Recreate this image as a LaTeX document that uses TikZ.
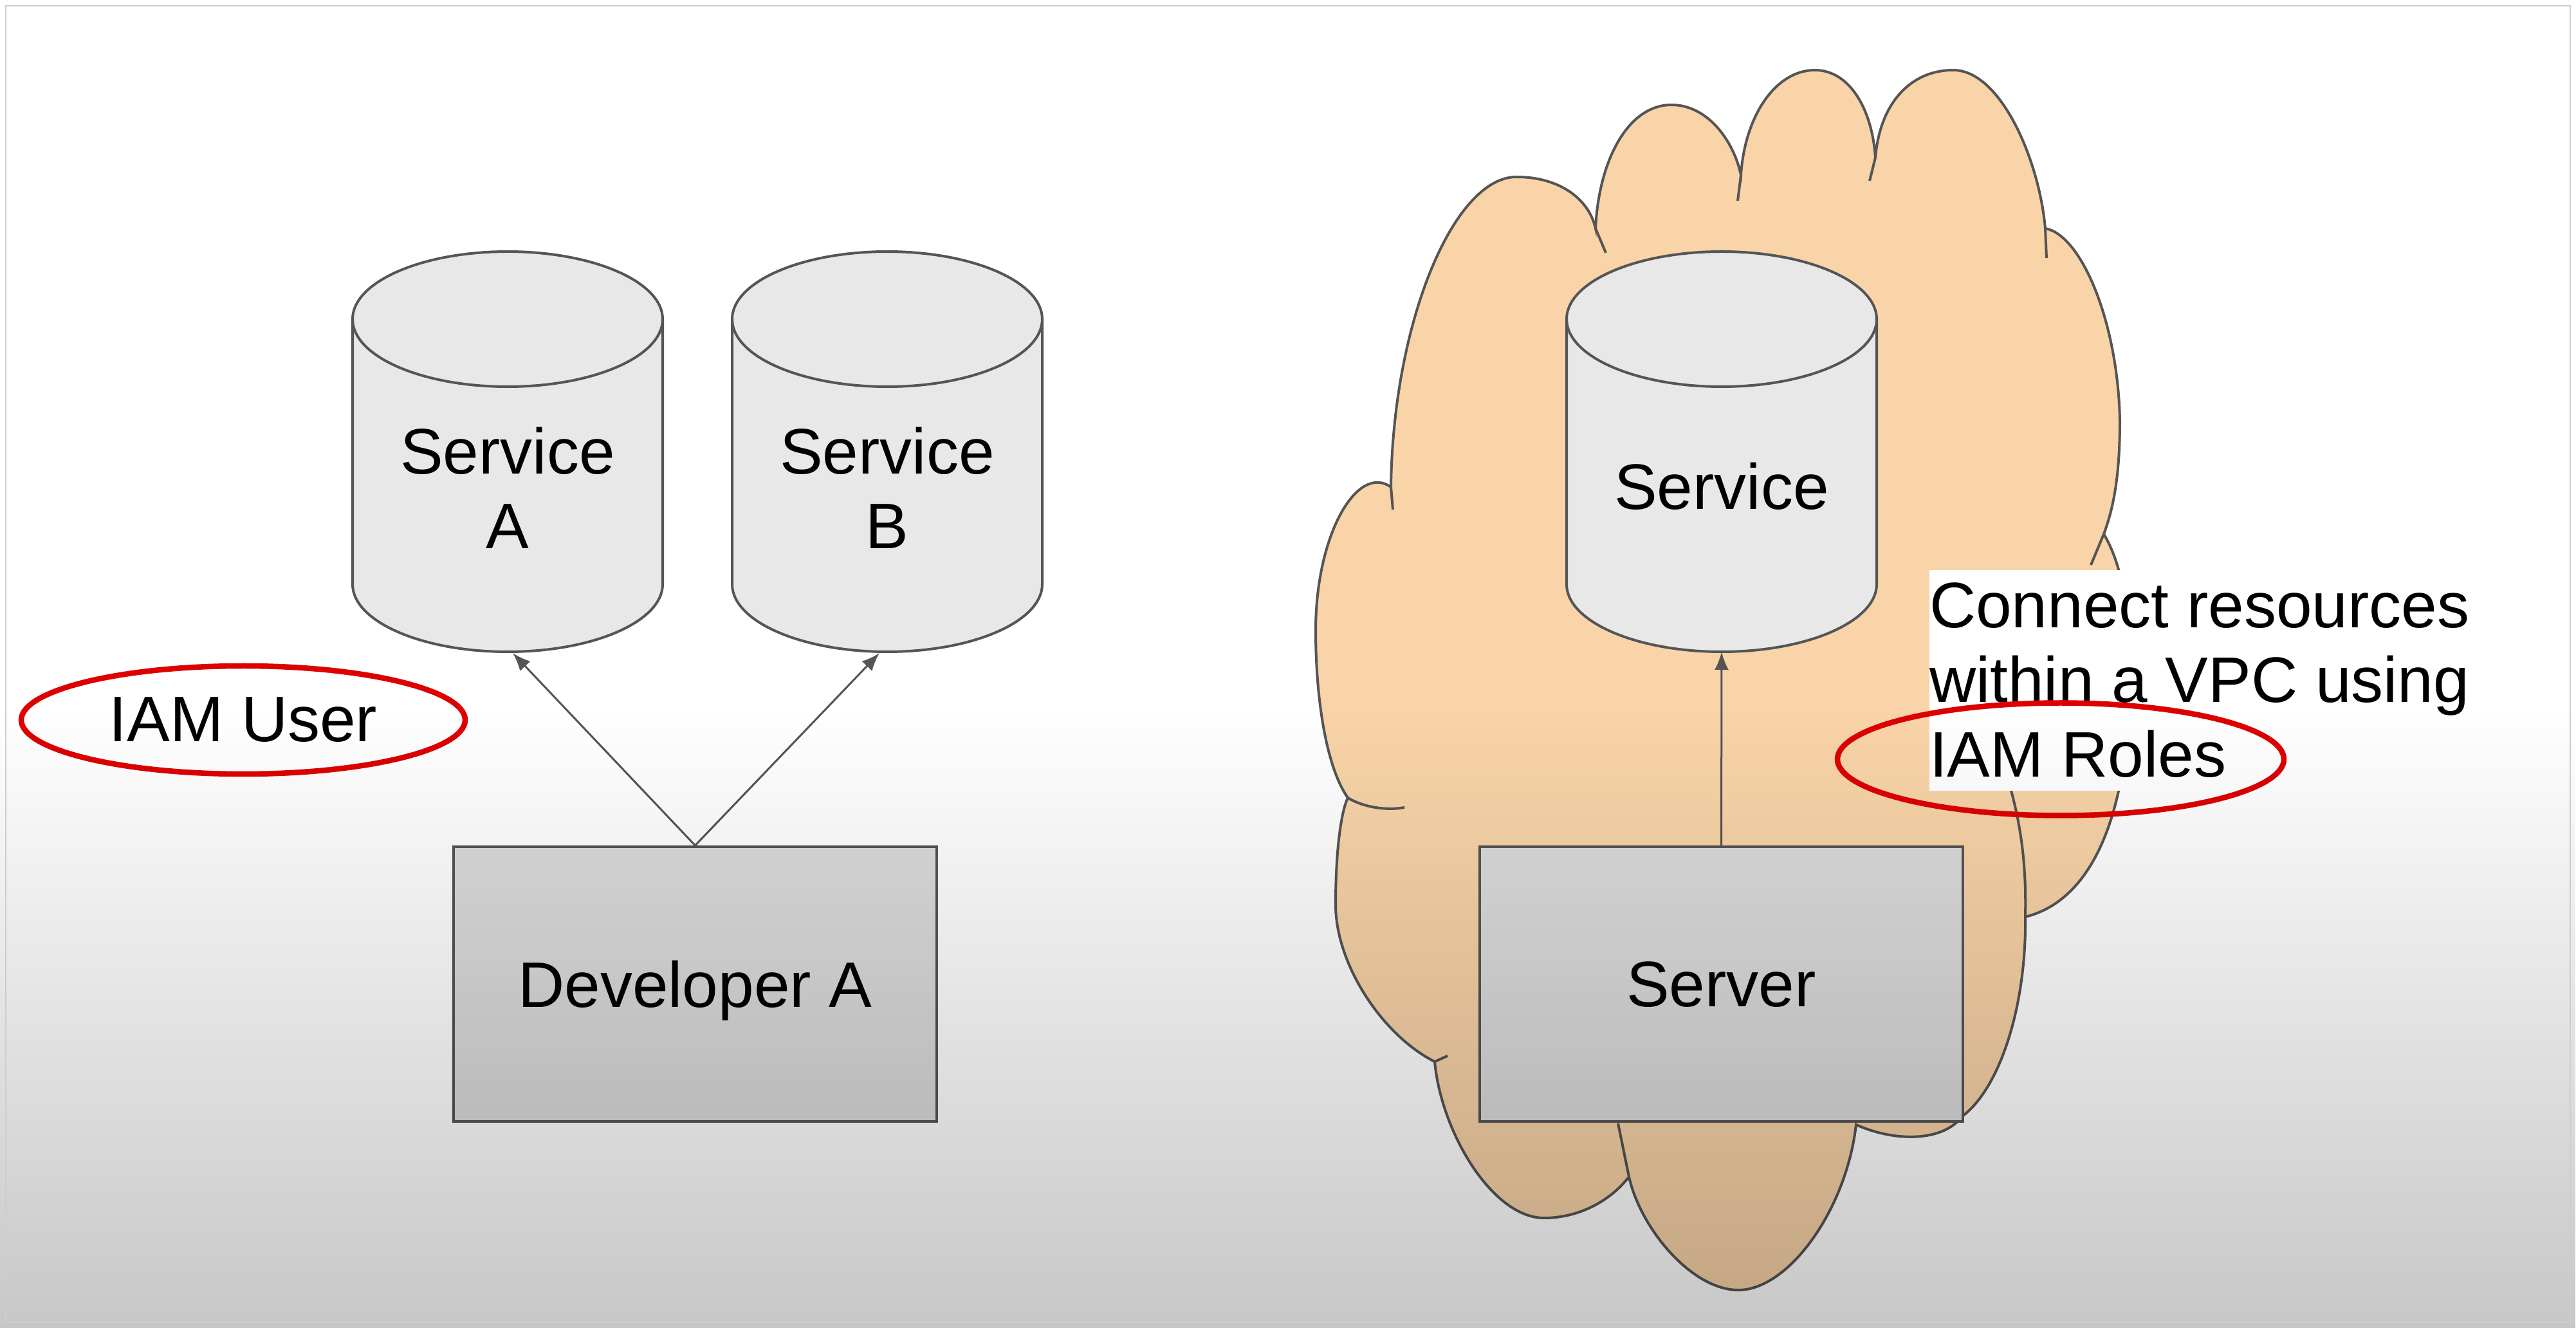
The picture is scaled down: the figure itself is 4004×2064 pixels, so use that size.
\documentclass[tikz,border=0pt]{standalone}
\usepackage{fontspec}
\setmainfont{Liberation Sans}
\usetikzlibrary{arrows.meta,shapes.geometric,fadings}

\definecolor{cloudfill}{RGB}{249,212,168}
\definecolor{canfill}{RGB}{232,232,232}
\definecolor{boxfill}{RGB}{220,220,220}
\definecolor{edgegray}{RGB}{85,85,85}
\definecolor{ringred}{RGB}{222,0,0}
\definecolor{framegray}{RGB}{205,205,205}

\tikzfading[name=screenfade, top color=transparent!100, middle color=transparent!35, bottom color=transparent!0]

\begin{document}
\begin{tikzpicture}[x=0.2pt,y=0.2pt,yscale=-1,
  can/.style={draw=edgegray, line width=0.8pt, fill=canfill},
  canrim/.style={draw=edgegray, line width=0.8pt},
  cloudline/.style={draw=edgegray, line width=0.8pt},
  lbl/.style={font=\fontsize{20}{23.2}\selectfont, align=center, inner sep=0pt},
  boxnode/.style={rectangle, draw=edgegray, line width=0.8pt, fill=boxfill, minimum width=150.2pt, minimum height=85.4pt, inner sep=0pt, text depth=0pt, font=\fontsize{20}{23.2}\selectfont},
  conn/.style={draw=edgegray, line width=0.6pt, -{Latex[length=5.6pt,width=4.4pt]}},
  ring/.style={ellipse, draw=ringred, line width=1.7pt, inner sep=0pt}]
%uncomment if require: \path (0,2064); %set diagram left start at 0, and has height of 2064

\fill[white] (0,0) rectangle (4004,2064);
\useasboundingbox (0,0) rectangle (4004,2064);

%Shape: Cloud
\draw[cloudline, fill=cloudfill] (2162,757)
  .. controls (2165,500) and (2260,275) .. (2357,275)
  .. controls (2425,275) and (2470,310) .. (2480,355)
  .. controls (2485,250) and (2530,163) .. (2598,163)
  .. controls (2655,163) and (2695,220) .. (2706,272)
  .. controls (2712,180) and (2760,109) .. (2821,109)
  .. controls (2875,109) and (2910,170) .. (2915,245)
  .. controls (2922,160) and (2970,109) .. (3036,109)
  .. controls (3110,109) and (3170,250) .. (3179,355)
  .. controls (3235,365) and (3292,500) .. (3295,654)
  .. controls (3295,740) and (3285,790) .. (3270,830)
  .. controls (3300,880) and (3312,960) .. (3310,1050)
  .. controls (3310,1270) and (3250,1400) .. (3148,1425)
  .. controls (3150,1560) and (3110,1690) .. (3050,1735)
  .. controls (3020,1775) and (2945,1775) .. (2885,1748)
  .. controls (2870,1880) and (2780,2005) .. (2702,2005)
  .. controls (2630,2005) and (2550,1910) .. (2532,1829)
  .. controls (2500,1870) and (2450,1893) .. (2400,1893)
  .. controls (2320,1893) and (2240,1760) .. (2230,1650)
  .. controls (2150,1610) and (2076,1500) .. (2076,1406)
  .. controls (2076,1320) and (2085,1260) .. (2095,1240)
  .. controls (2060,1190) and (2045,1080) .. (2045,980)
  .. controls (2045,830) and (2110,720) .. (2162,757) -- cycle;
%Curve Lines: cloud tails
\draw[cloudline] (2162,757) -- (2165,792);
\draw[cloudline] (2480,355) -- (2496,393);
\draw[cloudline] (2706,272) -- (2701,312);
\draw[cloudline] (2915,245) -- (2906,281);
\draw[cloudline] (3179,355) -- (3181,401);
\draw[cloudline] (3270,830) -- (3250,878);
\draw[cloudline] (3148,1425) .. controls (3150,1340) and (3140,1280) .. (3125,1225);
\draw[cloudline] (2095,1240) .. controls (2120,1255) and (2155,1260) .. (2183,1255);
\draw[cloudline] (2532,1829) -- (2515,1746);
\draw[cloudline] (2230,1650) -- (2250,1641);

%Shape: Can
\draw[can] (548,496) -- (548,908) arc[start angle=180, end angle=0, x radius=241, y radius=105] -- (1030,496) arc[start angle=0, end angle=-180, x radius=241, y radius=105] -- cycle;
\draw[canrim] (548,496) arc[start angle=180, end angle=0, x radius=241, y radius=105];
%Shape: Can
\draw[can] (1138,496) -- (1138,908) arc[start angle=180, end angle=0, x radius=241, y radius=105] -- (1620,496) arc[start angle=0, end angle=-180, x radius=241, y radius=105] -- cycle;
\draw[canrim] (1138,496) arc[start angle=180, end angle=0, x radius=241, y radius=105];
%Shape: Can
\draw[can] (2435,496) -- (2435,908) arc[start angle=180, end angle=0, x radius=241, y radius=105] -- (2917,496) arc[start angle=0, end angle=-180, x radius=241, y radius=105] -- cycle;
\draw[canrim] (2435,496) arc[start angle=180, end angle=0, x radius=241, y radius=105];

% Text Node
\node[lbl] (svcA) at (789,758) {Service\\A};
% Text Node
\node[lbl] (svcB) at (1379,758) {Service\\B};
% Text Node
\node[lbl] (svc) at (2676,756) {Service};

% Text Node
\node[boxnode] (devA) at (1080.5,1529.5) {Developer A};
% Text Node
\node[boxnode] (srv) at (2675.5,1529.5) {Server};

\coordinate (svcAbot) at (797,1015);
\coordinate (svcBbot) at (1367,1015);
\coordinate (svcbot) at (2676,1013);

%Straight Lines
\draw[conn] (devA.north) -- (svcAbot);
\draw[conn] (devA.north) -- (svcBbot);
\draw[conn] (srv.north) -- (svcbot);

% Text Node
\node[anchor=north west, fill=white, inner xsep=0pt, inner ysep=4pt, align=left, font=\fontsize{20}{23.2}\selectfont] (note) at (2998,885) {Connect resources\\within a VPC using\\IAM Roles};

%Shape: Ellipse
\node[ring, minimum width=138pt, minimum height=33.6pt, font=\fontsize{20}{23.2}\selectfont] (iamuser) at (378,1119) {IAM User};
%Shape: Ellipse
\node[ring, minimum width=138.8pt, minimum height=35pt] (rolering) at (3203,1180) {};

% screen shading
\fill[black, fill opacity=0.22, path fading=screenfade] (0,1100) rectangle (4004,2064);
\draw[draw=framegray, line width=0.5pt] (9,9) rectangle (3995,2055);

\end{tikzpicture}
\end{document}
